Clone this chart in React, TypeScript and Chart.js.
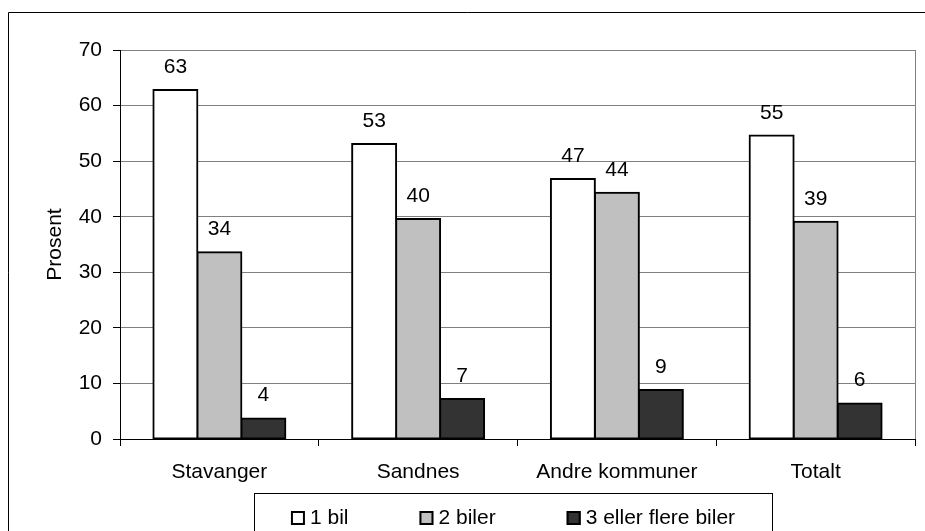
import { useEffect, useRef } from "react";
import { Chart, registerables } from "chart.js";

Chart.register(...registerables);

const categories = ["Stavanger", "Sandnes", "Andre kommuner", "Totalt"];
const seriesNames = ["1 bil", "2 biler", "3 eller flere biler"];
const oneCar = [62.8, 53.1, 46.8, 54.6];
const twoCars = [33.6, 39.6, 44.3, 39.1];
const threeCars = [3.7, 7.2, 8.8, 6.4];
const yMin = 0;
const yMax = 70;
const yStep = 10;
const seriesColors = ["#FFFFFF", "#C0C0C0", "#333333"];

const FONT = "'Liberation Sans', Arial, Helvetica, sans-serif";
const FONT_SIZE = 21;

const framePlugin = {
  id: "frame",
  beforeDraw(chart: any) {
    const { ctx, width, height } = chart;
    ctx.save();
    ctx.fillStyle = "#fff";
    ctx.fillRect(0, 0, width, height);
    ctx.strokeStyle = "#000";
    ctx.lineWidth = 1;
    ctx.beginPath();
    ctx.moveTo(8.5, height + 2);
    ctx.lineTo(8.5, 12.5);
    ctx.lineTo(width + 2, 12.5);
    ctx.stroke();
    ctx.restore();
  },
  afterDraw(chart: any) {
    const { ctx, chartArea, height } = chart;
    ctx.save();
    // right border of plot area
    ctx.strokeStyle = "#808080";
    ctx.lineWidth = 1;
    ctx.beginPath();
    ctx.moveTo(Math.round(chartArea.right) + 0.5, chartArea.top);
    ctx.lineTo(Math.round(chartArea.right) + 0.5, chartArea.bottom);
    ctx.stroke();

    // legend
    ctx.font = `${FONT_SIZE}px ${FONT}`;
    const box = 14;
    const textGap = 5;
    const itemGap = 71;
    const items = chart.data.datasets.map((ds: any) => ({
      label: ds.label,
      color: ds.backgroundColor,
      w: ctx.measureText(ds.label).width,
    }));
    const total =
      items.reduce((a: number, it: any) => a + box + textGap + it.w, 0) +
      itemGap * (items.length - 1);
    const cx = 513;
    const boxW = 518;
    const boxTop = 493.5;
    ctx.strokeStyle = "#000";
    ctx.lineWidth = 1;
    ctx.strokeRect(Math.round(cx - boxW / 2) + 0.5, boxTop, boxW, height);
    let x = cx - total / 2;
    const sqTop = 511;
    const baseline = 524;
    items.forEach((it: any) => {
      ctx.fillStyle = it.color;
      ctx.fillRect(x, sqTop, box, box);
      ctx.strokeStyle = "#000";
      ctx.lineWidth = 2;
      ctx.strokeRect(x + 1, sqTop + 1, box - 2, box - 2);
      ctx.fillStyle = "#000";
      ctx.textAlign = "left";
      ctx.textBaseline = "alphabetic";
      ctx.fillText(it.label, x + box + textGap, baseline);
      x += box + textGap + it.w + itemGap;
    });
    ctx.restore();
  },
};

const valueLabelPlugin = {
  id: "valueLabels",
  afterDatasetsDraw(chart: any) {
    const { ctx } = chart;
    ctx.save();
    ctx.font = `${FONT_SIZE}px ${FONT}`;
    ctx.fillStyle = "#000";
    ctx.textAlign = "center";
    ctx.textBaseline = "alphabetic";
    chart.data.datasets.forEach((ds: any, i: number) => {
      const meta = chart.getDatasetMeta(i);
      meta.data.forEach((el: any, j: number) => {
        const v = ds.data[j];
        ctx.fillText(String(Math.round(v)), el.x, el.y - 17);
      });
    });
    ctx.restore();
  },
};

export default function App() {
  const canvasRef = useRef<HTMLCanvasElement | null>(null);

  useEffect(() => {
    if (!canvasRef.current) return;
    Chart.defaults.font.family = FONT;
    Chart.defaults.font.size = FONT_SIZE;
    Chart.defaults.color = "#000";

    const values = [oneCar, twoCars, threeCars];
    const datasets = seriesNames.map((name, i) => ({
      label: name,
      data: values[i],
      backgroundColor: seriesColors[i],
      borderColor: "#000",
      borderWidth: 2,
      borderSkipped: false as const,
      inflateAmount: 1,
      categoryPercentage: 0.664,
      barPercentage: 1,
    }));

    const chart = new Chart(canvasRef.current, {
      type: "bar",
      data: { labels: categories, datasets },
      options: {
        animation: false,
        responsive: true,
        maintainAspectRatio: false,
        devicePixelRatio: 1,
        layout: { padding: { top: 50, left: 0, right: 10, bottom: 38 } },
        plugins: {
          legend: { display: false },
          tooltip: { enabled: false },
          title: { display: false },
        },
        scales: {
          x: {
            type: "category",
            grid: {
              display: true,
              drawOnChartArea: false,
              drawTicks: true,
              tickLength: 7,
              tickColor: "#000",
              offset: true,
            },
            border: { display: true, color: "#000", width: 1 },
            ticks: {
              padding: 14,
              color: "#000",
              font: { size: FONT_SIZE, family: FONT },
              maxRotation: 0,
              autoSkip: false,
            },
            afterFit: (s: any) => {
              s.height = 54;
            },
          },
          y: {
            min: yMin,
            max: yMax,
            ticks: {
              stepSize: yStep,
              padding: 11,
              color: "#000",
              font: { size: FONT_SIZE, family: FONT },
            },
            grid: {
              color: "#808080",
              lineWidth: 1,
              tickColor: "#000",
              tickLength: 7,
            },
            border: { display: true, color: "#000", width: 1 },
            title: {
              display: true,
              text: "Prosent",
              color: "#000",
              font: { size: FONT_SIZE, family: FONT, lineHeight: 1.2 },
              padding: { top: 43, bottom: 0 },
            },
            afterFit: (s: any) => {
              s.width = 120;
            },
          },
        },
      },
      plugins: [framePlugin, valueLabelPlugin],
    });
    return () => chart.destroy();
  }, []);

  return (
    <div
      style={{
        position: "fixed",
        left: 0,
        top: 0,
        width: 925,
        height: 531,
        background: "#fff",
      }}
    >
      <canvas ref={canvasRef} />
    </div>
  );
}
